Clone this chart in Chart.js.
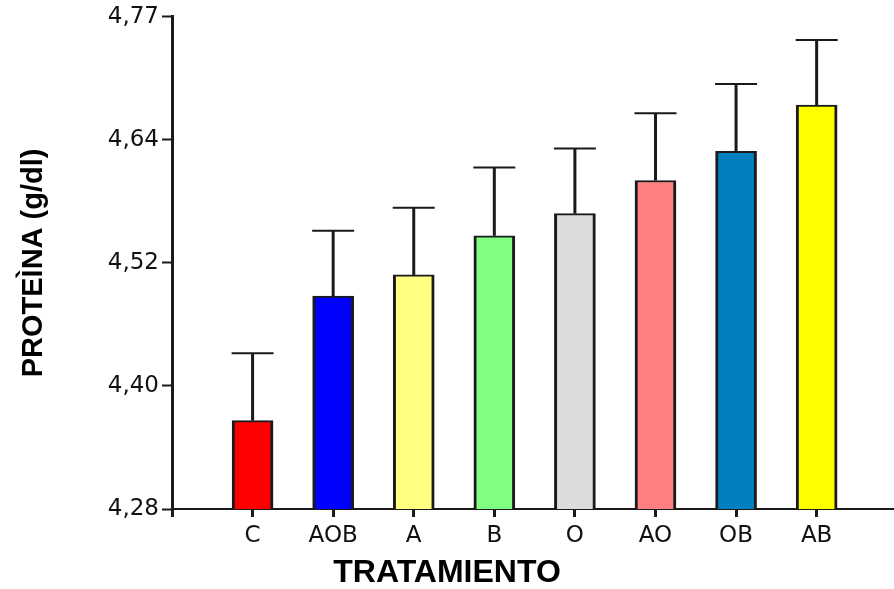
<!DOCTYPE html>
<html>
<head>
<meta charset="utf-8">
<script src="https://cdn.jsdelivr.net/npm/chart.js@4"></script>
<style>
  html, body { margin: 0; padding: 0; background: #ffffff; }
  #wrap { width: 894px; height: 589px; position: relative; }
</style>
</head>
<body>
<div id="wrap"><canvas id="chart"></canvas></div>
<script>
// Treatments and mean serum protein (g/dl) with the upper error bar length
const categories = ['C', 'AOB', 'A', 'B', 'O', 'AO', 'OB', 'AB'];
const means      = [4.368, 4.492, 4.513, 4.552, 4.574, 4.607, 4.636, 4.682];
const errors     = [0.067, 0.065, 0.067, 0.068, 0.065, 0.067, 0.067, 0.065];
const barColors  = ['#ff0000', '#0000ff', '#ffff80', '#80ff80', '#dcdcdc', '#ff8080', '#0080c0', '#ffff00'];
const yTickLabels = ['4,28', '4,40', '4,52', '4,64', '4,77'];
const yMin = 4.28;
const yMax = 4.77;

const points = categories.map((c, i) => ({ x: i + 1, y: means[i] }));

// Upward error bars with caps, placed through the chart scales
const errorBars = {
  id: 'errorBars',
  afterDatasetsDraw(chart) {
    const { ctx, scales: { x, y } } = chart;
    ctx.save();
    ctx.strokeStyle = '#1a1a1a';
    means.forEach((m, i) => {
      const px = x.getPixelForValue(i + 1);
      const yTop = y.getPixelForValue(m);
      const yErr = y.getPixelForValue(m + errors[i]);
      ctx.lineWidth = 3;
      ctx.beginPath();
      ctx.moveTo(px, yTop);
      ctx.lineTo(px, yErr);
      ctx.stroke();
      ctx.lineWidth = 2;
      ctx.beginPath();
      ctx.moveTo(px - 21, yErr);
      ctx.lineTo(px + 21, yErr);
      ctx.stroke();
    });
    ctx.restore();
  }
};

const tickFont = { family: "'DejaVu Sans', 'Liberation Sans', Arial, sans-serif", size: 23 };

new Chart(document.getElementById('chart'), {
  type: 'bar',
  data: {
    datasets: [{
      data: points,
      backgroundColor: barColors,
      borderColor: '#1a1a1a',
      borderWidth: { top: 2, left: 3, right: 3, bottom: 0 },
      barThickness: 41
    }]
  },
  options: {
    responsive: true,
    maintainAspectRatio: false,
    animation: false,
    layout: { padding: { top: 16, right: 0, bottom: 0, left: 0 } },
    plugins: {
      legend: { display: false },
      tooltip: { enabled: false },
      title: {
        display: true,
        position: 'bottom',
        text: 'TRATAMIENTO',
        color: '#000000',
        font: { family: "'Liberation Sans', Arial, sans-serif", size: 32, weight: 'bold', lineHeight: 1 },
        padding: { top: 4, bottom: 0 }
      }
    },
    scales: {
      x: {
        type: 'linear',
        min: 0,
        max: 8.96,
        offset: false,
        afterBuildTicks(scale) {
          scale.ticks = [{ value: 0 }].concat(categories.map((c, i) => ({ value: i + 1 })));
        },
        afterFit(scale) { scale.height = 44; },
        ticks: {
          autoSkip: false,
          maxRotation: 0,
          color: '#111111',
          font: tickFont,
          padding: 5,
          callback: (v) => (v >= 1 ? categories[v - 1] : '')
        },
        grid: {
          offset: false,
          drawOnChartArea: false,
          tickLength: 8,
          tickWidth: 3,
          tickColor: '#1a1a1a'
        },
        border: { display: true, color: '#1a1a1a', width: 2 }
      },
      y: {
        type: 'linear',
        min: yMin,
        max: yMax,
        afterBuildTicks(scale) {
          const step = (yMax - yMin) / (yTickLabels.length - 1);
          scale.ticks = yTickLabels.map((l, i) => ({ value: yMin + i * step }));
        },
        afterFit(scale) { scale.width = 172; },
        ticks: {
          color: '#111111',
          font: tickFont,
          padding: 3,
          callback: (v, i) => yTickLabels[i]
        },
        grid: {
          drawOnChartArea: false,
          tickLength: 10,
          tickWidth: 2,
          tickColor: '#1a1a1a'
        },
        border: { display: true, color: '#1a1a1a', width: 3 },
        title: {
          display: true,
          text: 'PROTEÌNA (g/dl)',
          color: '#000000',
          font: { family: "'Liberation Sans', Arial, sans-serif", size: 29, weight: 'bold', lineHeight: 1 },
          padding: { top: 19, bottom: 0 }
        }
      }
    }
  },
  plugins: [errorBars]
});
</script>
</body>
</html>
